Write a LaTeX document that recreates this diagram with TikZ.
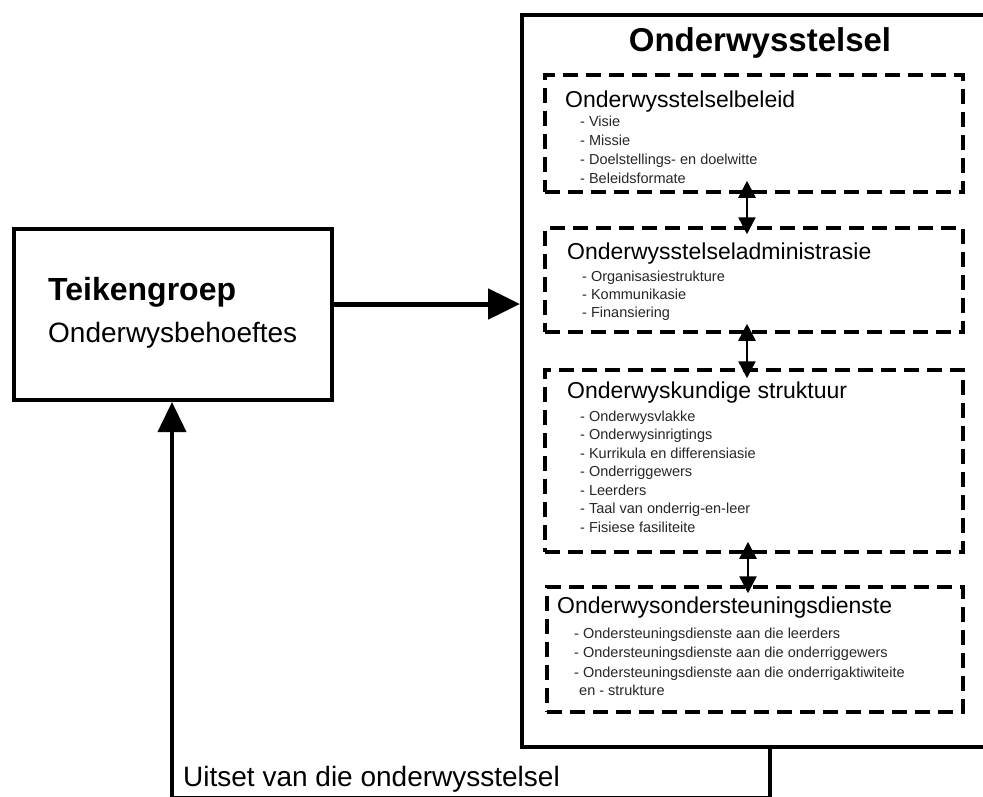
\documentclass[tikz,border=0pt]{standalone}
\usepackage{fontspec}
\setmainfont{Liberation Sans}
\usetikzlibrary{arrows.meta}
\begin{document}
\begin{tikzpicture}[x=1pt,y=-1pt,
  solidbox/.style={draw, line width=4pt, inner sep=0pt},
  dashbox/.style={draw, line width=3.5pt, dash pattern=on 15pt off 8pt, inner sep=0pt},
  txt/.style={anchor=base west, inner sep=0pt},
  sectitle/.style={txt, font=\fontsize{23}{27}\selectfont},
  item/.style={txt, font=\fontsize{14.5}{18}\selectfont, text=black!85},
  bigarrow/.style={line width=5pt, -{Triangle[length=32pt,width=30pt]}},
  fbarrow/.style={line width=4pt, line join=miter, -{Triangle[length=30pt,width=28pt]}},
  dblarrow/.style={line width=2.5pt, {Triangle[length=17pt,width=17pt]}-{Triangle[length=17pt,width=17pt]}}]
\useasboundingbox (0,0) rectangle (983,796);

% main box
\node[solidbox, minimum width=478pt, minimum height=732pt] (main) at (761,381) {};
\node[anchor=base, inner sep=0pt] (title) at (760,51) {\fontsize{33}{38}\selectfont\bfseries Onderwysstelsel};

% target group box
\node[solidbox, minimum width=318pt, minimum height=171pt] (teiken) at (173,314.5) {};
\node[txt] (teikent) at (48,300) {\fontsize{32}{36}\selectfont\bfseries Teikengroep};
\node[txt] (needs) at (48,342) {\fontsize{28}{32}\selectfont Onderwysbehoeftes};

% dashed boxes
\node[dashbox, minimum width=418pt, minimum height=117pt] (b1) at (754,133.5) {};
\node[dashbox, minimum width=418pt, minimum height=104pt] (b2) at (754,280) {};
\node[dashbox, minimum width=418pt, minimum height=182pt] (b3) at (754,461) {};
\node[dashbox, minimum width=416pt, minimum height=125pt] (b4) at (755,649.5) {};

% box 1
\node[sectitle] (t1) at (565,107) {Onderwysstelselbeleid};
\foreach \t [count=\i] in {Visie, Missie, Doelstellings- en doelwitte, Beleidsformate}
  \node[item] (a\i) at (580,{126+19*(\i-1)}) {- \t};

% box 2
\node[sectitle] (t2) at (567,259) {Onderwysstelseladministrasie};
\foreach \t [count=\i] in {Organisasiestrukture, Kommunikasie, Finansiering}
  \node[item] (c\i) at (582,{281+18*(\i-1)}) {- \t};

% box 3
\node[sectitle] (t3) at (567,398) {Onderwyskundige struktuur};
\foreach \t [count=\i] in {Onderwysvlakke, Onderwysinrigtings, Kurrikula en differensiasie, Onderriggewers, Leerders, Taal van onderrig-en-leer, Fisiese fasiliteite}
  \node[item] (d\i) at (580,{421+18.5*(\i-1)}) {- \t};

% box 4
\node[sectitle] (t4) at (557,613) {Onderwysondersteuningsdienste};
\foreach \t [count=\i] in {Ondersteuningsdienste aan die leerders, Ondersteuningsdienste aan die onderriggewers, Ondersteuningsdienste aan die onderrigaktiwiteite}
  \node[item] (e\i) at (574,{638+19.5*(\i-1)}) {- \t};
\node[item] (e4) at (579,695) {en - strukture};

% double arrows
\draw[dblarrow] ([xshift=-7pt,yshift=13pt]b1.south) -- ([xshift=-7pt,yshift=-8pt]b2.north);
\draw[dblarrow] ([xshift=-7pt,yshift=10pt]b2.south) -- ([xshift=-7pt,yshift=-10pt]b3.north);
\draw[dblarrow] ([xshift=-6pt,yshift=12pt]b3.south) -- ([xshift=-7pt,yshift=-8pt]b4.north);

% main arrow
\draw[bigarrow] ([yshift=10.5pt]teiken.east) -- ([yshift=10.5pt]teiken.east -| main.west);

% feedback
\coordinate (fb) at (770,797.5);
\coordinate (fl) at (172,797.5);
\draw[fbarrow] (main.south -| fb) -- (fb) -- (fl) -- (fl |- teiken.south);
\node[txt] (out) at (183,786) {\fontsize{28}{32}\selectfont Uitset van die onderwysstelsel};
\end{tikzpicture}
\end{document}
